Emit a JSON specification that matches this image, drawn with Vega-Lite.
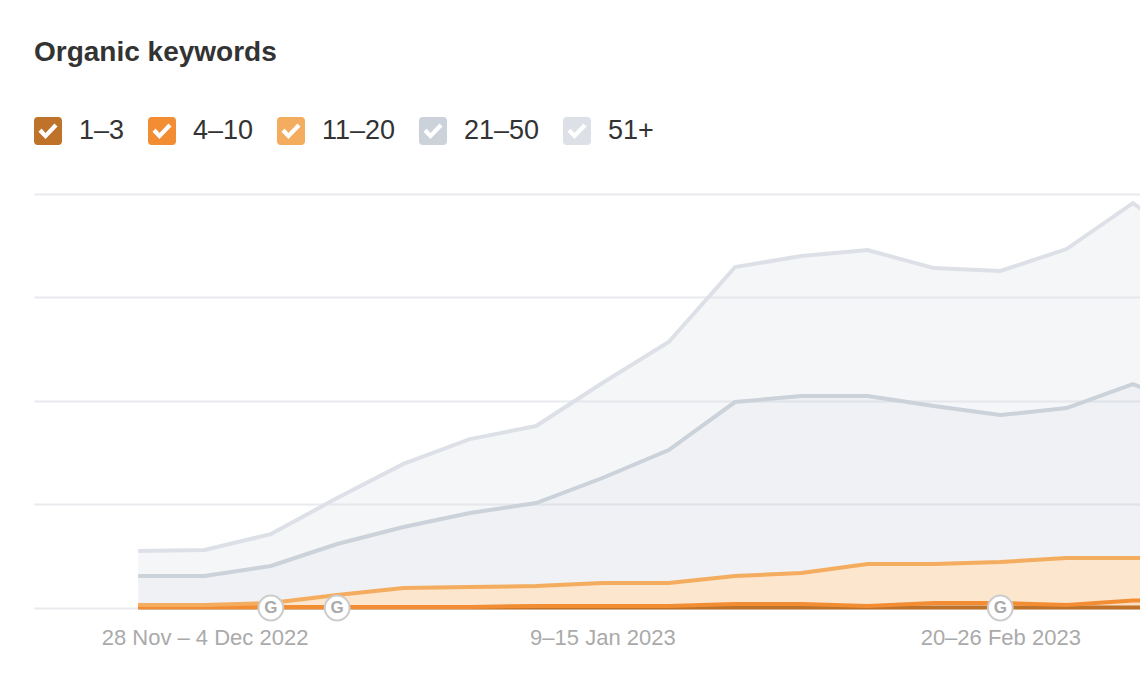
{
  "$schema": "https://vega.github.io/schema/vega-lite/v6.json",
  "description": "Organic keywords by position",
  "width": 1106,
  "height": 417,
  "autosize": "none",
  "padding": {"left": 34, "top": 194, "right": 0, "bottom": 75},
  "background": "#ffffff",
  "title": {
    "text": "Organic keywords",
    "anchor": "start",
    "frame": "group",
    "offset": 50,
    "font": "Liberation Sans",
    "fontSize": 28,
    "fontWeight": "bold",
    "color": "#333333"
  },
  "data": {
    "values": [
      {"week": "2022-11-21", "band": "1–3", "rank": 1, "keywords": 3},
      {"week": "2022-11-28", "band": "1–3", "rank": 1, "keywords": 3},
      {"week": "2022-12-05", "band": "1–3", "rank": 1, "keywords": 3},
      {"week": "2022-12-12", "band": "1–3", "rank": 1, "keywords": 3},
      {"week": "2022-12-19", "band": "1–3", "rank": 1, "keywords": 3},
      {"week": "2022-12-26", "band": "1–3", "rank": 1, "keywords": 3},
      {"week": "2023-01-02", "band": "1–3", "rank": 1, "keywords": 3},
      {"week": "2023-01-09", "band": "1–3", "rank": 1, "keywords": 3},
      {"week": "2023-01-16", "band": "1–3", "rank": 1, "keywords": 3},
      {"week": "2023-01-23", "band": "1–3", "rank": 1, "keywords": 3},
      {"week": "2023-01-30", "band": "1–3", "rank": 1, "keywords": 3},
      {"week": "2023-02-06", "band": "1–3", "rank": 1, "keywords": 3},
      {"week": "2023-02-13", "band": "1–3", "rank": 1, "keywords": 3},
      {"week": "2023-02-20", "band": "1–3", "rank": 1, "keywords": 3},
      {"week": "2023-02-27", "band": "1–3", "rank": 1, "keywords": 3},
      {"week": "2023-03-06", "band": "1–3", "rank": 1, "keywords": 3},
      {"week": "2023-03-13", "band": "1–3", "rank": 1, "keywords": 3},

      {"week": "2022-11-21", "band": "4–10", "rank": 2, "keywords": 2},
      {"week": "2022-11-28", "band": "4–10", "rank": 2, "keywords": 2},
      {"week": "2022-12-05", "band": "4–10", "rank": 2, "keywords": 2},
      {"week": "2022-12-12", "band": "4–10", "rank": 2, "keywords": 2},
      {"week": "2022-12-19", "band": "4–10", "rank": 2, "keywords": 2},
      {"week": "2022-12-26", "band": "4–10", "rank": 2, "keywords": 2},
      {"week": "2023-01-02", "band": "4–10", "rank": 2, "keywords": 7},
      {"week": "2023-01-09", "band": "4–10", "rank": 2, "keywords": 7},
      {"week": "2023-01-16", "band": "4–10", "rank": 2, "keywords": 7},
      {"week": "2023-01-23", "band": "4–10", "rank": 2, "keywords": 16},
      {"week": "2023-01-30", "band": "4–10", "rank": 2, "keywords": 16},
      {"week": "2023-02-06", "band": "4–10", "rank": 2, "keywords": 7},
      {"week": "2023-02-13", "band": "4–10", "rank": 2, "keywords": 21},
      {"week": "2023-02-20", "band": "4–10", "rank": 2, "keywords": 21},
      {"week": "2023-02-27", "band": "4–10", "rank": 2, "keywords": 11},
      {"week": "2023-03-06", "band": "4–10", "rank": 2, "keywords": 33},
      {"week": "2023-03-13", "band": "4–10", "rank": 2, "keywords": 36},

      {"week": "2022-11-21", "band": "11–20", "rank": 3, "keywords": 9},
      {"week": "2022-11-28", "band": "11–20", "rank": 3, "keywords": 9},
      {"week": "2022-12-05", "band": "11–20", "rank": 3, "keywords": 19},
      {"week": "2022-12-12", "band": "11–20", "rank": 3, "keywords": 58},
      {"week": "2022-12-19", "band": "11–20", "rank": 3, "keywords": 92},
      {"week": "2022-12-26", "band": "11–20", "rank": 3, "keywords": 96},
      {"week": "2023-01-02", "band": "11–20", "rank": 3, "keywords": 96},
      {"week": "2023-01-09", "band": "11–20", "rank": 3, "keywords": 111},
      {"week": "2023-01-16", "band": "11–20", "rank": 3, "keywords": 111},
      {"week": "2023-01-23", "band": "11–20", "rank": 3, "keywords": 136},
      {"week": "2023-01-30", "band": "11–20", "rank": 3, "keywords": 150},
      {"week": "2023-02-06", "band": "11–20", "rank": 3, "keywords": 203},
      {"week": "2023-02-13", "band": "11–20", "rank": 3, "keywords": 189},
      {"week": "2023-02-20", "band": "11–20", "rank": 3, "keywords": 198},
      {"week": "2023-02-27", "band": "11–20", "rank": 3, "keywords": 228},
      {"week": "2023-03-06", "band": "11–20", "rank": 3, "keywords": 206},
      {"week": "2023-03-13", "band": "11–20", "rank": 3, "keywords": 203},

      {"week": "2022-11-21", "band": "21–50", "rank": 4, "keywords": 141},
      {"week": "2022-11-28", "band": "21–50", "rank": 4, "keywords": 141},
      {"week": "2022-12-05", "band": "21–50", "rank": 4, "keywords": 179},
      {"week": "2022-12-12", "band": "21–50", "rank": 4, "keywords": 246},
      {"week": "2022-12-19", "band": "21–50", "rank": 4, "keywords": 294},
      {"week": "2022-12-26", "band": "21–50", "rank": 4, "keywords": 358},
      {"week": "2023-01-02", "band": "21–50", "rank": 4, "keywords": 401},
      {"week": "2023-01-09", "band": "21–50", "rank": 4, "keywords": 507},
      {"week": "2023-01-16", "band": "21–50", "rank": 4, "keywords": 642},
      {"week": "2023-01-23", "band": "21–50", "rank": 4, "keywords": 840},
      {"week": "2023-01-30", "band": "21–50", "rank": 4, "keywords": 855},
      {"week": "2023-02-06", "band": "21–50", "rank": 4, "keywords": 811},
      {"week": "2023-02-13", "band": "21–50", "rank": 4, "keywords": 763},
      {"week": "2023-02-20", "band": "21–50", "rank": 4, "keywords": 710},
      {"week": "2023-02-27", "band": "21–50", "rank": 4, "keywords": 724},
      {"week": "2023-03-06", "band": "21–50", "rank": 4, "keywords": 840},
      {"week": "2023-03-13", "band": "21–50", "rank": 4, "keywords": 714},

      {"week": "2022-11-21", "band": "51+", "rank": 5, "keywords": 120},
      {"week": "2022-11-28", "band": "51+", "rank": 5, "keywords": 125},
      {"week": "2022-12-05", "band": "51+", "rank": 5, "keywords": 154},
      {"week": "2022-12-12", "band": "51+", "rank": 5, "keywords": 222},
      {"week": "2022-12-19", "band": "51+", "rank": 5, "keywords": 305},
      {"week": "2022-12-26", "band": "51+", "rank": 5, "keywords": 357},
      {"week": "2023-01-02", "band": "51+", "rank": 5, "keywords": 372},
      {"week": "2023-01-09", "band": "51+", "rank": 5, "keywords": 459},
      {"week": "2023-01-16", "band": "51+", "rank": 5, "keywords": 522},
      {"week": "2023-01-23", "band": "51+", "rank": 5, "keywords": 652},
      {"week": "2023-01-30", "band": "51+", "rank": 5, "keywords": 676},
      {"week": "2023-02-06", "band": "51+", "rank": 5, "keywords": 705},
      {"week": "2023-02-13", "band": "51+", "rank": 5, "keywords": 666},
      {"week": "2023-02-20", "band": "51+", "rank": 5, "keywords": 696},
      {"week": "2023-02-27", "band": "51+", "rank": 5, "keywords": 768},
      {"week": "2023-03-06", "band": "51+", "rank": 5, "keywords": 874},
      {"week": "2023-03-13", "band": "51+", "rank": 5, "keywords": 773}
    ]
  },
  "encoding": {
    "x": {
      "field": "week",
      "type": "temporal",
      "title": null,
      "scale": {
        "type": "utc",
        "nice": false,
        "domain": [
          {"year": 2022, "month": "nov", "date": 10, "utc": true},
          {"year": 2023, "month": "mar", "date": 6, "hours": 18, "utc": true}
        ]
      },
      "axis": {
        "values": [
          {"year": 2022, "month": "nov", "date": 28, "utc": true},
          {"year": 2023, "month": "jan", "date": 9, "utc": true},
          {"year": 2023, "month": "feb", "date": 20, "utc": true}
        ],
        "labelExpr": "{'Nov': '28 Nov – 4 Dec 2022', 'Jan': '9–15 Jan 2023', 'Feb': '20–26 Feb 2023'}[utcFormat(datum.value, '%b')]",
        "domain": false,
        "ticks": false,
        "grid": false,
        "labelAngle": 0,
        "labelPadding": 16,
        "labelFont": "Liberation Sans",
        "labelFontSize": 22,
        "labelColor": "#aaaaaa",
        "labelLimit": 400,
        "labelOverlap": false,
        "labelBound": false,
        "labelFlush": false
      }
    }
  },
  "layer": [
    {
      "mark": {"type": "area", "opacity": 0.3, "clip": true},
      "encoding": {
        "y": {
          "field": "keywords",
          "type": "quantitative",
          "stack": "zero",
          "title": null,
          "scale": {"domain": [-14.5, 2000], "nice": false, "zero": false},
          "axis": {
            "values": [0, 500, 1000, 1500, 2000],
            "labels": false,
            "ticks": false,
            "domain": false,
            "grid": true,
            "gridColor": "#e8eaed",
            "gridWidth": 2
          }
        },
        "order": {"field": "rank", "type": "ordinal"},
        "color": {
          "field": "band",
          "type": "nominal",
          "scale": {
            "domain": ["1–3", "4–10", "11–20", "21–50", "51+"],
            "range": ["#bf722a", "#f28d34", "#f4ac5e", "#cbd2da", "#dde1e7"]
          },
          "legend": {
            "title": null,
            "orient": "none",
            "direction": "horizontal",
            "columns": 5,
            "legendX": 0,
            "legendY": -77,
            "symbolType": "M-0.75,-1H0.75A0.25,0.25 0 0 1 1,-0.75V0.75A0.25,0.25 0 0 1 0.75,1H-0.75A0.25,0.25 0 0 1 -1,0.75V-0.75A0.25,0.25 0 0 1 -0.75,-1ZM-0.68,0.05L-0.18,0.58L0.68,-0.32L0.46,-0.54L-0.18,0.14L-0.46,-0.17Z",
            "symbolSize": 784,
            "symbolOpacity": 1,
            "symbolStrokeWidth": 0,
            "labelOffset": 17,
            "labelFont": "Liberation Sans",
            "labelFontSize": 27,
            "labelColor": "#333333",
            "columnPadding": 23,
            "labelLimit": 200
          }
        }
      }
    },
    {
      "mark": {"type": "line", "strokeWidth": 4, "clip": true},
      "encoding": {
        "y": {"field": "keywords", "type": "quantitative", "stack": "zero"},
        "order": {"field": "rank", "type": "ordinal"},
        "color": {"field": "band", "type": "nominal", "legend": null}
      }
    },
    {
      "data": {
        "values": [
          {"week": "2022-12-05", "keywords": 0, "engine": "G"},
          {"week": "2022-12-12", "keywords": 0, "engine": "G"},
          {"week": "2023-02-20", "keywords": 0, "engine": "G"}
        ]
      },
      "mark": {"type": "point", "filled": false, "fill": "#ffffff", "fillOpacity": 1, "stroke": "#cccccc", "strokeWidth": 2, "opacity": 1, "size": 616, "shape": "circle"},
      "encoding": {
        "y": {"field": "keywords", "type": "quantitative"}
      }
    },
    {
      "data": {
        "values": [
          {"week": "2022-12-05", "keywords": 0, "engine": "G"},
          {"week": "2022-12-12", "keywords": 0, "engine": "G"},
          {"week": "2023-02-20", "keywords": 0, "engine": "G"}
        ]
      },
      "mark": {"type": "text", "font": "Liberation Sans", "fontSize": 17, "fontWeight": "bold", "color": "#aaaaaa", "align": "center", "baseline": "middle"},
      "encoding": {
        "y": {"field": "keywords", "type": "quantitative"},
        "text": {"field": "engine", "type": "nominal"}
      }
    }
  ],
  "config": {
    "view": {"stroke": null}
  }
}
